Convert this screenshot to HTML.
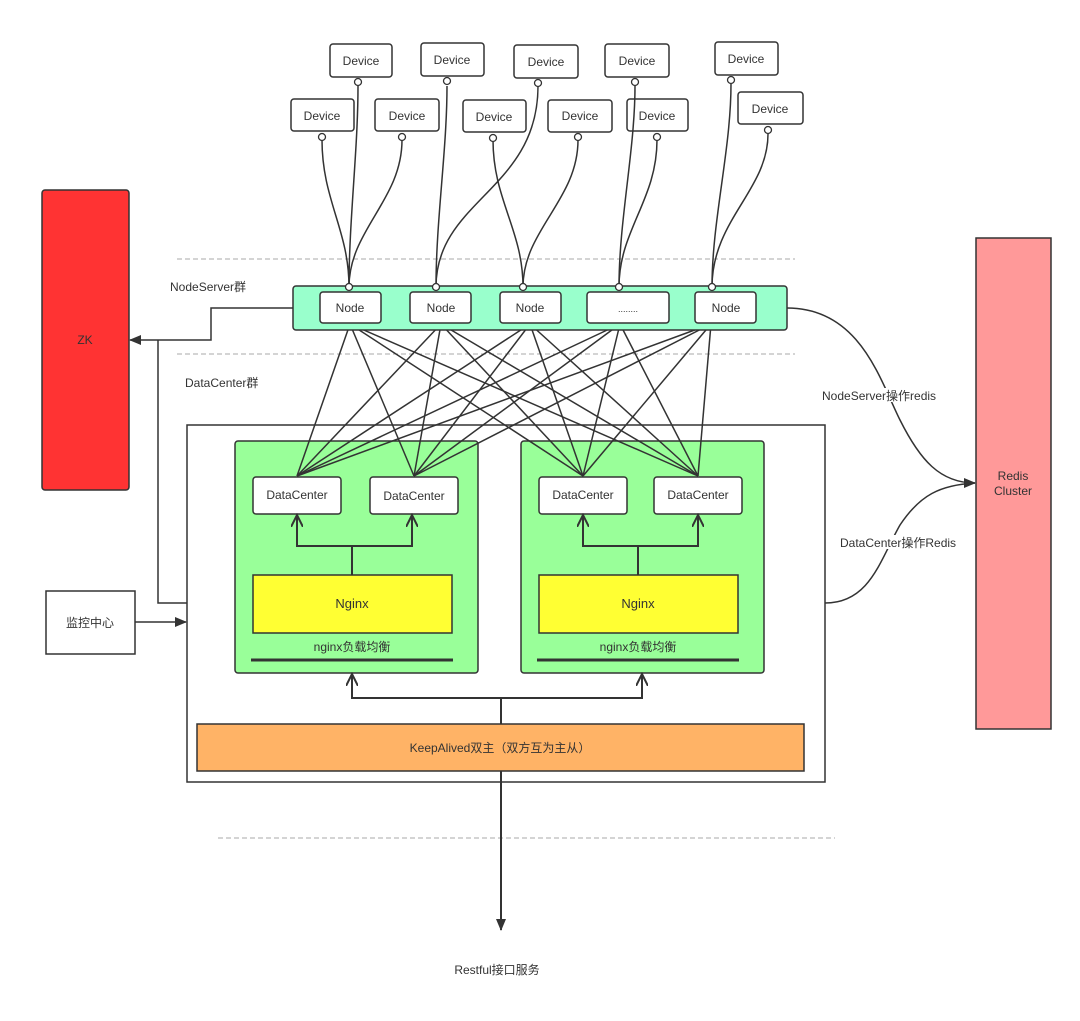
<!DOCTYPE html>
<html><head><meta charset="utf-8"><style>
html,body{margin:0;padding:0;background:#fff;}
svg text{font-family:"Liberation Sans","Noto Sans CJK SC",sans-serif;fill:#333;}
</style></head><body>
<svg width="1080" height="1016" viewBox="0 0 1080 1016" xmlns="http://www.w3.org/2000/svg">
<defs>
<marker id="fa" markerWidth="12" markerHeight="10" refX="11" refY="5" orient="auto" markerUnits="userSpaceOnUse"><path d="M0,0 L12,5 L0,10 Z" fill="#333"/></marker>
<marker id="oa" markerWidth="14" markerHeight="12" refX="12" refY="6" orient="auto" markerUnits="userSpaceOnUse"><path d="M0,0 L12,6 L0,12" fill="none" stroke="#333" stroke-width="2"/></marker>
</defs>
<g stroke="#aaa" stroke-dasharray="5,3" stroke-width="1">
<line x1="177" y1="259" x2="795" y2="259"/>
<line x1="177" y1="354" x2="795" y2="354"/>
<line x1="218" y1="838" x2="835" y2="838"/>
</g>
<rect x="42" y="190" width="87" height="300" rx="3" fill="#ff3333" stroke="#333" stroke-width="1.5"/>
<text x="85" y="344" font-size="12" text-anchor="middle">ZK</text>
<rect x="976" y="238" width="75" height="491" fill="#ff9999" stroke="#333" stroke-width="1.5"/>
<text x="1013" y="480" font-size="12" text-anchor="middle">Redis</text>
<text x="1013" y="495" font-size="12" text-anchor="middle">Cluster</text>
<rect x="187" y="425" width="638" height="357" fill="none" stroke="#333" stroke-width="1.5"/>
<rect x="235" y="441" width="243" height="232" rx="3" fill="#99ff99" stroke="#333" stroke-width="1.5"/>
<rect x="521" y="441" width="243" height="232" rx="3" fill="#99ff99" stroke="#333" stroke-width="1.5"/>
<g fill="#fff" stroke="#333" stroke-width="1.5">
<rect x="253" y="477" width="88" height="37" rx="3"/>
<rect x="370" y="477" width="88" height="37" rx="3"/>
<rect x="539" y="477" width="88" height="37" rx="3"/>
<rect x="654" y="477" width="88" height="37" rx="3"/>
</g>
<g font-size="12" text-anchor="middle">
<text x="297" y="499">DataCenter</text><text x="414" y="500">DataCenter</text>
<text x="583" y="499">DataCenter</text><text x="698" y="499">DataCenter</text>
</g>
<rect x="253" y="575" width="199" height="58" fill="#ffff33" stroke="#333" stroke-width="1.5"/>
<rect x="539" y="575" width="199" height="58" fill="#ffff33" stroke="#333" stroke-width="1.5"/>
<text x="352" y="608" font-size="13" text-anchor="middle">Nginx</text>
<text x="638" y="608" font-size="13" text-anchor="middle">Nginx</text>
<text x="352" y="651" font-size="12" text-anchor="middle">nginx负载均衡</text>
<text x="638" y="651" font-size="12" text-anchor="middle">nginx负载均衡</text>
<line x1="251" y1="660" x2="453" y2="660" stroke="#333" stroke-width="3"/>
<line x1="537" y1="660" x2="739" y2="660" stroke="#333" stroke-width="3"/>
<g fill="none" stroke="#333" stroke-width="2">
<path d="M352,575 V546 H297 V515" marker-end="url(#oa)"/>
<path d="M352,546 H412 V515" marker-end="url(#oa)"/>
<path d="M638,575 V546 H583 V515" marker-end="url(#oa)"/>
<path d="M638,546 H698 V515" marker-end="url(#oa)"/>
<path d="M501,724 V698 H352 V674" marker-end="url(#oa)"/>
<path d="M501,698 H642 V674" marker-end="url(#oa)"/>
</g>
<rect x="197" y="724" width="607" height="47" fill="#ffb366" stroke="#333" stroke-width="1.5"/>
<text x="500" y="752" font-size="12" text-anchor="middle">KeepAlived双主（双方互为主从）</text>
<line x1="501" y1="771" x2="501" y2="930" stroke="#333" stroke-width="2" marker-end="url(#fa)"/>
<text x="497" y="974" font-size="12" text-anchor="middle">Restful接口服务</text>
<g stroke="#333" stroke-width="1.5">
<line x1="350" y1="324" x2="297" y2="476"/><line x1="350" y1="324" x2="414" y2="476"/><line x1="350" y1="324" x2="583" y2="476"/><line x1="350" y1="324" x2="698" y2="476"/>
<line x1="441" y1="324" x2="297" y2="476"/><line x1="441" y1="324" x2="414" y2="476"/><line x1="441" y1="324" x2="583" y2="476"/><line x1="441" y1="324" x2="698" y2="476"/>
<line x1="530" y1="324" x2="297" y2="476"/><line x1="530" y1="324" x2="414" y2="476"/><line x1="530" y1="324" x2="583" y2="476"/><line x1="530" y1="324" x2="698" y2="476"/>
<line x1="620" y1="324" x2="297" y2="476"/><line x1="620" y1="324" x2="414" y2="476"/><line x1="620" y1="324" x2="583" y2="476"/><line x1="620" y1="324" x2="698" y2="476"/>
<line x1="711" y1="324" x2="297" y2="476"/><line x1="711" y1="324" x2="414" y2="476"/><line x1="711" y1="324" x2="583" y2="476"/><line x1="711" y1="324" x2="698" y2="476"/>
</g>
<rect x="293" y="286" width="494" height="44" rx="3" fill="#99ffcc" stroke="#333" stroke-width="1.5"/>
<g fill="#fff" stroke="#333" stroke-width="1.5">
<rect x="320" y="292" width="61" height="31" rx="3"/>
<rect x="410" y="292" width="61" height="31" rx="3"/>
<rect x="500" y="292" width="61" height="31" rx="3"/>
<rect x="587" y="292" width="82" height="31" rx="3"/>
<rect x="695" y="292" width="61" height="31" rx="3"/>
</g>
<g font-size="12" text-anchor="middle">
<text x="350" y="312">Node</text><text x="441" y="312">Node</text><text x="530" y="312">Node</text><text x="628" y="312" font-size="9">........</text><text x="726" y="312">Node</text>
</g>
<g fill="none" stroke="#333" stroke-width="1.5">
<path d="M322,140 C322,200 349,230 349,287"/>
<path d="M358,86 C358,150 349,220 349,287"/>
<path d="M402,140 C402,200 349,230 349,287"/>
<path d="M447,86 C447,150 436,220 436,287"/>
<path d="M538,86 C538,190 436,200 436,287"/>
<path d="M493,140 C493,200 523,230 523,287"/>
<path d="M578,140 C578,200 523,230 523,287"/>
<path d="M635,86 C635,150 619,220 619,287"/>
<path d="M657,140 C657,200 619,230 619,287"/>
<path d="M731,84 C731,150 712,220 712,287"/>
<path d="M768,134 C768,190 712,220 712,287"/>
</g>
<g fill="#fff" stroke="#333" stroke-width="1.5">
<rect x="330" y="44" width="62" height="33" rx="3"/>
<rect x="421" y="43" width="63" height="33" rx="3"/>
<rect x="514" y="45" width="64" height="33" rx="3"/>
<rect x="605" y="44" width="64" height="33" rx="3"/>
<rect x="715" y="42" width="63" height="33" rx="3"/>
<rect x="291" y="99" width="63" height="32" rx="3"/>
<rect x="375" y="99" width="64" height="32" rx="3"/>
<rect x="463" y="100" width="63" height="32" rx="3"/>
<rect x="548" y="100" width="64" height="32" rx="3"/>
<rect x="627" y="99" width="61" height="32" rx="3" fill="none"/>
<rect x="738" y="92" width="65" height="32" rx="3"/>
</g>
<g font-size="12" text-anchor="middle">
<text x="361" y="65">Device</text><text x="452" y="64">Device</text><text x="546" y="66">Device</text><text x="637" y="65">Device</text><text x="746" y="63">Device</text>
<text x="322" y="120">Device</text><text x="407" y="120">Device</text><text x="494" y="121">Device</text><text x="580" y="120">Device</text><text x="657" y="120">Device</text><text x="770" y="113">Device</text>
</g>
<g fill="#fff" stroke="#333" stroke-width="1.3">
<circle cx="358" cy="82" r="3.5"/><circle cx="447" cy="81" r="3.5"/><circle cx="538" cy="83" r="3.5"/><circle cx="635" cy="82" r="3.5"/><circle cx="731" cy="80" r="3.5"/>
<circle cx="322" cy="137" r="3.5"/><circle cx="402" cy="137" r="3.5"/><circle cx="493" cy="138" r="3.5"/><circle cx="578" cy="137" r="3.5"/><circle cx="657" cy="137" r="3.5"/><circle cx="768" cy="130" r="3.5"/>
<circle cx="349" cy="287" r="3.5"/><circle cx="436" cy="287" r="3.5"/><circle cx="523" cy="287" r="3.5"/><circle cx="619" cy="287" r="3.5"/><circle cx="712" cy="287" r="3.5"/>
</g>
<g fill="none" stroke="#333" stroke-width="1.5">
<path d="M293,308 H211 V340 H130" marker-end="url(#fa)"/>
<path d="M158,340 V603 H187"/>
<path d="M135,622 H186" marker-end="url(#fa)"/>
<path d="M787,308 C860,308 880,380 900,420 C920,460 940,483 975,483" marker-end="url(#fa)"/>
<path d="M825,603 C870,603 880,560 900,525 C920,495 940,485 975,483"/>
</g>
<rect x="46" y="591" width="89" height="63" fill="#fff" stroke="#333" stroke-width="1.5"/>
<text x="90" y="627" font-size="12" text-anchor="middle">监控中心</text>
<g font-size="12">
<text x="170" y="291">NodeServer群</text>
<text x="185" y="387">DataCenter群</text>
<rect x="822" y="388" width="120" height="14" fill="#fff"/>
<text x="822" y="400">NodeServer操作redis</text>
<rect x="840" y="535" width="122" height="14" fill="#fff"/>
<text x="840" y="547">DataCenter操作Redis</text>
</g>
</svg>
</body></html>
